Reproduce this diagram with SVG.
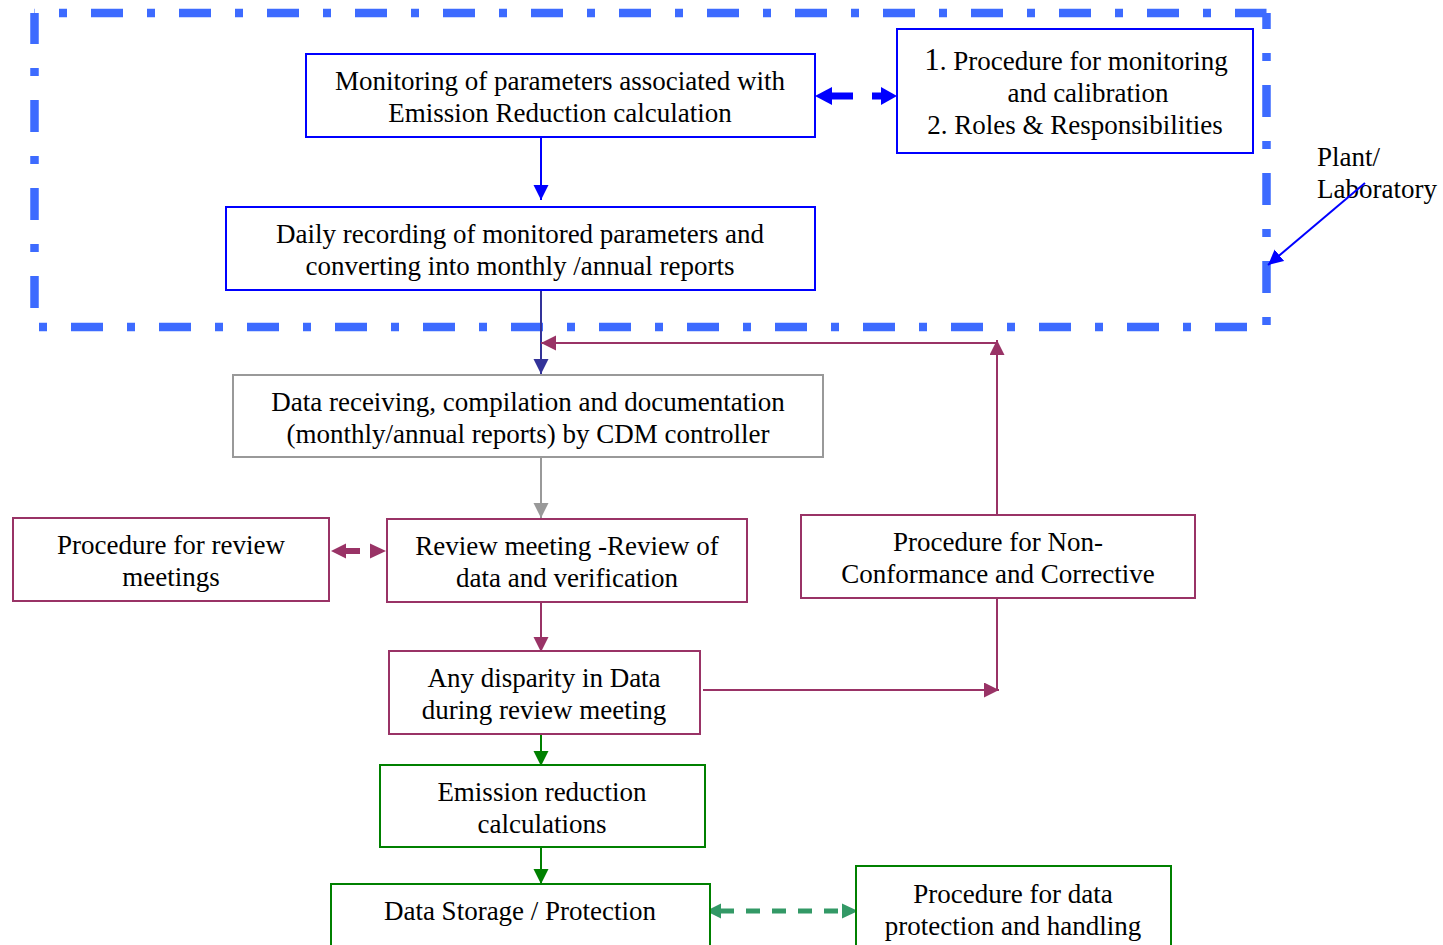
<svg xmlns="http://www.w3.org/2000/svg" width="1443" height="945" viewBox="0 0 1443 945">
  <defs>
    <style>
      text { font-family: "Liberation Serif", "Times New Roman", serif; font-size: 27px; fill: #000; }
      .c { text-anchor: middle; }
      .box { fill: #fff; stroke-width: 2; }
      .blue { stroke: #0000ff; }
      .gray { stroke: #999999; }
      .maroon { stroke: #993366; }
      .green { stroke: #008000; }
      .ln { fill: none; stroke-width: 2; }
      .edge { fill: none; stroke: #3d6bff; stroke-width: 8.5; stroke-dasharray: 32 24 8 24; }
    </style>
    <marker id="ahBlue" markerUnits="userSpaceOnUse" markerWidth="16" markerHeight="16" refX="15" refY="7.5" orient="auto">
      <path d="M0,0 L15,7.5 L0,15 z" fill="#0000ff"/>
    </marker>
    <marker id="ahIndigo" markerUnits="userSpaceOnUse" markerWidth="16" markerHeight="16" refX="15" refY="7.5" orient="auto">
      <path d="M0,0 L15,7.5 L0,15 z" fill="#333399"/>
    </marker>
    <marker id="ahGray" markerUnits="userSpaceOnUse" markerWidth="16" markerHeight="16" refX="15" refY="7.5" orient="auto">
      <path d="M0,0 L15,7.5 L0,15 z" fill="#999999"/>
    </marker>
    <marker id="ahMaroon" markerUnits="userSpaceOnUse" markerWidth="16" markerHeight="16" refX="15" refY="7.5" orient="auto">
      <path d="M0,0 L15,7.5 L0,15 z" fill="#993366"/>
    </marker>
    <marker id="ahGreen" markerUnits="userSpaceOnUse" markerWidth="16" markerHeight="16" refX="15" refY="7.5" orient="auto">
      <path d="M0,0 L15,7.5 L0,15 z" fill="#008000"/>
    </marker>
  </defs>

  <rect width="1443" height="945" fill="#fff"/>

  <!-- plant / laboratory boundary, one dash-dot line per side -->
  <g id="plant-boundary">
    <line x1="34.5" y1="13" x2="1266.5" y2="13" class="edge" stroke-dashoffset="31.5"/>
    <line x1="34.5" y1="13" x2="34.5" y2="327" class="edge" stroke-dashoffset="1"/>
    <line x1="1266.5" y1="13" x2="1266.5" y2="327" class="edge" stroke-dashoffset="16"/>
    <line x1="34.5" y1="327" x2="1266.5" y2="327" class="edge" stroke-dashoffset="51.5"/>
  </g>

  <g id="plant-label">
    <text x="1317" y="166">Plant/</text>
    <text x="1317" y="198">Laboratory</text>
  </g>

  <g id="connectors">
    <!-- label pointer -->
    <line x1="1365" y1="183" x2="1268" y2="265" class="ln" stroke="#0000ff" marker-end="url(#ahBlue)"/>
    <!-- monitoring <-> procedures (thick dashed, double headed) -->
    <g fill="#0000ff">
      <polygon points="815,96 832,87 832,105"/>
      <rect x="831" y="92.5" width="22" height="7"/>
      <rect x="872" y="92.5" width="10" height="7"/>
      <polygon points="881,87 897,96 881,105"/>
    </g>
    <line x1="541" y1="137" x2="541" y2="200" class="ln" stroke="#0000ff" marker-end="url(#ahBlue)"/>
    <line x1="541" y1="290" x2="541" y2="374" class="ln" stroke="#333399" marker-end="url(#ahIndigo)"/>
    <line x1="541" y1="457" x2="541" y2="518" class="ln" stroke="#999999" marker-end="url(#ahGray)"/>
    <!-- review procedure <-> review meeting -->
    <g fill="#993366">
      <polygon points="331,551 346,543.5 346,558.5"/>
      <rect x="345" y="548" width="15" height="6"/>
      <polygon points="370,543.5 386,551 370,558.5"/>
    </g>
    <line x1="541" y1="602" x2="541" y2="652" class="ln" stroke="#993366" marker-end="url(#ahMaroon)"/>
    <!-- non-conformance loop -->
    <line x1="703" y1="690" x2="999" y2="690" class="ln" stroke="#993366" marker-end="url(#ahMaroon)"/>
    <line x1="997" y1="598" x2="997" y2="690" class="ln" stroke="#993366"/>
    <line x1="997" y1="515" x2="997" y2="340" class="ln" stroke="#993366" marker-end="url(#ahMaroon)"/>
    <line x1="997" y1="343" x2="541" y2="343" class="ln" stroke="#993366" marker-end="url(#ahMaroon)"/>
    <!-- calculation chain -->
    <line x1="541" y1="731" x2="541" y2="766" class="ln" stroke="#008000" marker-end="url(#ahGreen)"/>
    <line x1="541" y1="847" x2="541" y2="884" class="ln" stroke="#008000" marker-end="url(#ahGreen)"/>
    <!-- storage <-> data protection procedure -->
    <g fill="#339966">
      <polygon points="706,911 721,903.5 721,918.5"/>
      <line x1="720" y1="911" x2="843" y2="911" stroke="#339966" stroke-width="5" stroke-dasharray="14 12"/>
      <polygon points="842,903.5 858,911 842,918.5"/>
    </g>
  </g>

  <g id="node-monitoring">
    <rect x="306" y="54" width="509" height="83" class="box blue"/>
    <text x="560" y="90" class="c">Monitoring of parameters associated with</text>
    <text x="560" y="122" class="c">Emission Reduction calculation</text>
  </g>

  <g id="node-procedures">
    <rect x="897" y="29" width="356" height="124" class="box blue"/>
    <text x="1076" y="70" class="c"><tspan font-size="31">1</tspan>. Procedure for monitoring</text>
    <text x="1088" y="102" class="c">and calibration</text>
    <text x="1075" y="134" class="c">2. Roles &amp; Responsibilities</text>
  </g>

  <g id="node-daily">
    <rect x="226" y="207" width="589" height="83" class="box blue"/>
    <text x="520" y="243" class="c">Daily recording of monitored parameters and</text>
    <text x="520" y="275" class="c">converting into monthly /annual reports</text>
  </g>

  <g id="node-data-receiving">
    <rect x="233" y="375" width="590" height="82" class="box gray"/>
    <text x="528" y="411" class="c">Data receiving, compilation and documentation</text>
    <text x="528" y="443" class="c">(monthly/annual reports) by CDM controller</text>
  </g>

  <g id="node-review-procedure">
    <rect x="13" y="518" width="316" height="83" class="box maroon"/>
    <text x="171" y="554" class="c">Procedure for review</text>
    <text x="171" y="586" class="c">meetings</text>
  </g>

  <g id="node-review-meeting">
    <rect x="387" y="519" width="360" height="83" class="box maroon"/>
    <text x="567" y="555" class="c">Review meeting -Review of</text>
    <text x="567" y="587" class="c">data and verification</text>
  </g>

  <g id="node-non-conformance">
    <rect x="801" y="515" width="394" height="83" class="box maroon"/>
    <text x="998" y="551" class="c">Procedure for Non-</text>
    <text x="998" y="583" class="c">Conformance and Corrective</text>
  </g>

  <g id="node-disparity">
    <rect x="389" y="651" width="311" height="83" class="box maroon"/>
    <text x="544" y="687" class="c">Any disparity in Data</text>
    <text x="544" y="719" class="c">during review meeting</text>
  </g>

  <g id="node-emission">
    <rect x="380" y="765" width="325" height="82" class="box green"/>
    <text x="542" y="801" class="c">Emission reduction</text>
    <text x="542" y="833" class="c">calculations</text>
  </g>

  <g id="node-storage">
    <rect x="331" y="884" width="379" height="80" class="box green"/>
    <text x="520" y="920" class="c">Data Storage / Protection</text>
  </g>

  <g id="node-data-procedure">
    <rect x="856" y="866" width="315" height="100" class="box green"/>
    <text x="1013" y="903" class="c">Procedure for data</text>
    <text x="1013" y="935" class="c">protection and handling</text>
  </g>
</svg>
